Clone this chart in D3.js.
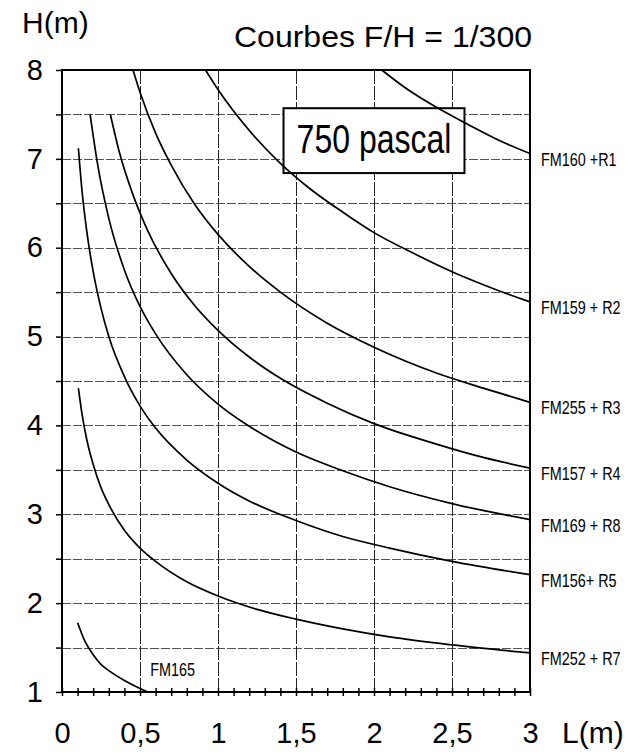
<!DOCTYPE html>
<html lang="fr">
<head>
<meta charset="utf-8">
<title>Courbes F/H = 1/300</title>
<script src="https://cdn.jsdelivr.net/npm/d3@7/dist/d3.min.js"></script>
<style>
  body { margin: 0; background: #fff; }
  svg { display: block; font-family: "Liberation Sans", Arial, sans-serif; }
  .grid line { stroke: #555; stroke-width: 1; stroke-dasharray: 9,2; shape-rendering: crispEdges; }
  .grid path { stroke-width: 0; }
  .vgrid line { stroke: #222; stroke-dasharray: 14,2; }
  .ticks path { stroke-width: 0; }
  .ticks line { stroke: #000; stroke-width: 1.5; }
  .labels path { stroke-width: 0; }
  .labels text { font-size: 29px; fill: #000; }
  .curve { fill: none; stroke: #000; stroke-width: 1.7; }
  .serie-label { font-size: 18px; fill: #000; }
</style>
</head>
<body>
<script>
  // abscisses / ordonnées
  var xTickVals = [0, 0.5, 1, 1.5, 2, 2.5, 3];
  var xTickLabels = ["0", "0,5", "1", "1,5", "2", "2,5", "3"];
  var yTickVals = [1, 2, 3, 4, 5, 6, 7, 8];
  var yTickLabels = ["1", "2", "3", "4", "5", "6", "7", "8"];

  // courbes : [L (m), H (m)]
  var fm160 = [[2.05, 8.0], [2.2, 7.8], [2.4, 7.58], [2.6, 7.39], [2.8, 7.21], [3.0, 7.06]];
  var fm159 = [[0.92, 8.0], [1.0, 7.78], [1.2, 7.32], [1.4, 6.95], [1.6, 6.65], [1.8, 6.4],
               [2.0, 6.17], [2.25, 5.94], [2.5, 5.73], [2.75, 5.55], [3.0, 5.39]];
  var fm255 = [[0.455, 8.0], [0.5, 7.75], [0.6, 7.29], [0.7, 6.93], [0.85, 6.49], [1.0, 6.15],
               [1.2, 5.79], [1.4, 5.5], [1.7, 5.15], [2.0, 4.88], [2.4, 4.59], [2.7, 4.42], [3.0, 4.26]];
  var fm157 = [[0.31, 7.5], [0.37, 7.06], [0.45, 6.62], [0.55, 6.19], [0.7, 5.71], [0.85, 5.35],
               [1.0, 5.07], [1.2, 4.77], [1.4, 4.53], [1.7, 4.25], [2.0, 4.02], [2.4, 3.79],
               [2.7, 3.64], [3.0, 3.52]];
  var fm169 = [[0.18, 7.5], [0.23, 6.92], [0.3, 6.33], [0.4, 5.75], [0.5, 5.34], [0.6, 5.03],
               [0.8, 4.57], [1.0, 4.24], [1.2, 3.99], [1.5, 3.7], [1.8, 3.49], [2.1, 3.31],
               [2.5, 3.12], [3.0, 2.94]];
  var fm156 = [[0.105, 7.12], [0.13, 6.61], [0.16, 6.17], [0.2, 5.73], [0.25, 5.32], [0.3, 5.0],
               [0.4, 4.55], [0.5, 4.22], [0.6, 3.97], [0.8, 3.61], [1.0, 3.35], [1.2, 3.15],
               [1.5, 2.93], [1.8, 2.75], [2.1, 2.62], [2.5, 2.47], [3.0, 2.32]];
  var fm252 = [[0.105, 4.42], [0.13, 4.11], [0.16, 3.83], [0.2, 3.56], [0.25, 3.3], [0.3, 3.11],
               [0.4, 2.82], [0.5, 2.62], [0.6, 2.47], [0.8, 2.24], [1.0, 2.08], [1.25, 1.93],
               [1.5, 1.82], [1.8, 1.71], [2.1, 1.62], [2.5, 1.53], [3.0, 1.44]];
  var fm165 = [[0.1, 1.78], [0.15, 1.56], [0.2, 1.42], [0.25, 1.31], [0.3, 1.24], [0.4, 1.13],
               [0.5, 1.04], [0.55, 1.0]];

  var curves = [fm160, fm159, fm255, fm157, fm169, fm156, fm252, fm165];
  var curveNames = ["FM160 +R1", "FM159 + R2", "FM255 + R3", "FM157 + R4",
                    "FM169 + R8", "FM156+ R5", "FM252 + R7", ""];

  var w = 627, h = 752;

  var x = d3.scaleLinear().domain([0, 3]).range([62, 530]);
  var y = d3.scaleLinear().domain([1, 8]).range([692, 70]);

  var svg = d3.select("body").append("svg")
    .attr("width", w)
    .attr("height", h);

  // horizontal gridlines
  svg.append("g")
    .attr("class", "grid")
    .attr("transform", "translate(" + x(0) + ",0)")
    .call(d3.axisLeft(y)
      .tickValues(d3.range(1.5, 8, 0.5))
      .tickSize(-(x(3) - x(0)))
      .tickFormat(""));

  // vertical gridlines
  svg.append("g")
    .attr("class", "grid vgrid")
    .attr("transform", "translate(0," + y(1) + ")")
    .call(d3.axisBottom(x)
      .tickValues([0.5, 1, 1.5, 2, 2.5])
      .tickSize(-(y(1) - y(8)))
      .tickFormat(""));

  // frame
  svg.append("rect")
    .attr("x", x(0))
    .attr("y", y(8))
    .attr("width", x(3) - x(0))
    .attr("height", y(1) - y(8))
    .attr("fill", "none")
    .attr("stroke", "#000")
    .attr("stroke-width", 2);

  // minor ticks on L axis (both sides)
  var minor = d3.range(0, 30.5, 1).map(function(d) { return d / 10; });
  svg.append("g")
    .attr("class", "ticks")
    .attr("transform", "translate(0," + y(1) + ")")
    .call(d3.axisBottom(x).tickValues(minor).tickSize(4).tickFormat(""));
  svg.append("g")
    .attr("class", "ticks")
    .attr("transform", "translate(0," + y(1) + ")")
    .call(d3.axisBottom(x).tickValues(minor).tickSize(-4).tickFormat(""));

  // ticks on H axis
  svg.append("g")
    .attr("class", "ticks")
    .attr("transform", "translate(" + x(0) + ",0)")
    .call(d3.axisLeft(y).tickValues(d3.range(1, 8.5, 0.5)).tickSize(6).tickFormat(""));

  // tick labels
  svg.append("g")
    .attr("class", "labels")
    .attr("transform", "translate(0," + y(1) + ")")
    .call(d3.axisBottom(x)
      .tickValues(xTickVals)
      .tickSize(0)
      .tickPadding(30)
      .tickFormat(function(d, i) { return xTickLabels[i]; }));

  svg.append("g")
    .attr("class", "labels")
    .attr("transform", "translate(" + x(0) + ",0)")
    .call(d3.axisLeft(y)
      .tickValues(yTickVals)
      .tickSize(0)
      .tickPadding(19)
      .tickFormat(function(d, i) { return yTickLabels[i]; }));

  svg.selectAll(".labels").attr("font-family", null).attr("font-size", null);

  // axis titles
  svg.append("text")
    .attr("x", 22).attr("y", 33)
    .style("font-size", "30px")
    .text("H(m)");

  svg.append("text")
    .attr("x", 562).attr("y", 743)
    .style("font-size", "30px")
    .text("L(m)");

  svg.append("text")
    .attr("x", 234).attr("y", 47)
    .style("font-size", "30px")
    .attr("textLength", 298)
    .attr("lengthAdjust", "spacingAndGlyphs")
    .text("Courbes F/H = 1/300");

  // "750 pascal" box
  var boxL = [1.42, 2.58], boxH = [6.84, 7.57];
  svg.append("rect")
    .attr("x", x(boxL[0]))
    .attr("y", y(boxH[1]))
    .attr("width", x(boxL[1]) - x(boxL[0]))
    .attr("height", y(boxH[0]) - y(boxH[1]))
    .attr("fill", "#fff")
    .attr("stroke", "#000")
    .attr("stroke-width", 2);

  svg.append("text")
    .attr("transform", "translate(" + ((x(boxL[0]) + x(boxL[1])) / 2) + "," + (y(boxH[0]) - 20) + ") scale(0.8,1)")
    .attr("text-anchor", "middle")
    .style("font-size", "40px")
    .text("750 pascal");

  // curves
  var line = d3.line()
    .x(function(d) { return x(d[0]); })
    .y(function(d) { return y(d[1]); })
    .curve(d3.curveMonotoneX);

  svg.selectAll(".curve")
    .data(curves)
    .enter()
    .append("path")
    .attr("class", "curve")
    .attr("d", line);

  // curve names at right edge
  svg.selectAll(".serie-label")
    .data(curves.filter(function(c, i) { return curveNames[i] !== ""; }))
    .enter()
    .append("text")
    .attr("class", "serie-label")
    .attr("transform", function(d) {
      var last = d[d.length - 1];
      return "translate(" + (x(3) + 11) + "," + (y(last[1]) + 12) + ") scale(0.8,1)";
    })
    .text(function(d, i) { return curveNames[i]; });

  // FM165 label
  svg.append("text")
    .attr("class", "serie-label")
    .attr("transform", "translate(" + x(0.565) + "," + y(1.18) + ") scale(0.8,1)")
    .text("FM165");
</script>
</body>
</html>
